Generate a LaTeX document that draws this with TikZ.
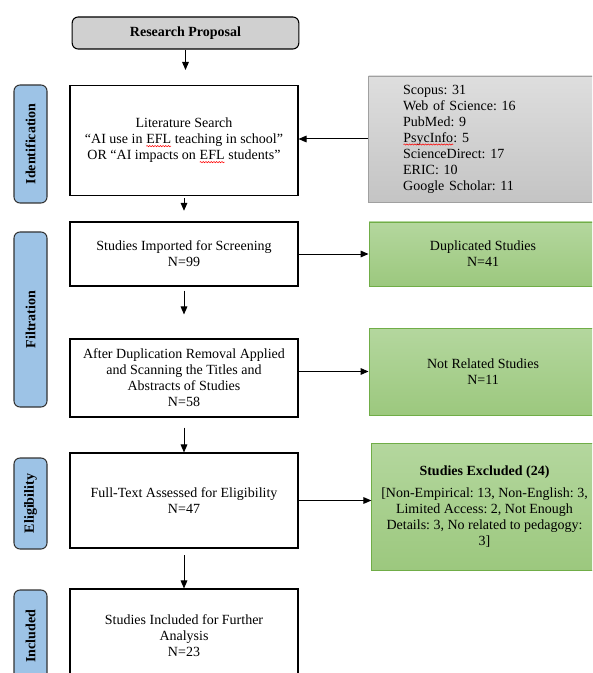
\documentclass[tikz,border=0pt]{standalone}
\usepackage{fontspec}
\setmainfont{Liberation Serif}
\usetikzlibrary{arrows,arrows.meta}
\usetikzlibrary{calc}
\usetikzlibrary{decorations.pathmorphing}
\frenchspacing

\definecolor{sideblue}{RGB}{157,195,230}
\definecolor{propgray}{RGB}{208,208,208}
\definecolor{srctop}{RGB}{222,222,222}
\definecolor{srcbot}{RGB}{196,196,196}
\definecolor{srcline}{RGB}{160,160,160}
\definecolor{greentop}{RGB}{180,215,158}
\definecolor{greenbot}{RGB}{156,200,126}
\definecolor{greenline}{RGB}{112,173,71}

\newcommand{\spellmark}[1]{\tikz[baseline=(w.base), x=1pt, y=1pt]{\node[anchor=base, inner sep=0pt, outer sep=0pt, minimum width=0pt, minimum height=0pt, text width={}, align=left] (w) {#1};
 \draw[red, line width=.4pt, decorate, decoration={snake, amplitude=.45pt, segment length=2pt}] ([yshift=-1.8pt]w.base west) -- ([yshift=-1.8pt]w.base east);}}

\begin{document}
\begin{tikzpicture}[x=.75pt, y=-.75pt, font=\fontsize{10.5}{12}\selectfont,
 mainbox/.style={draw=black, line width=.8pt, fill=white, align=center, minimum width=171pt, inner sep=2pt},
 sidebox/.style={draw=black!80, line width=.8pt, fill=sideblue, rounded corners=4.5pt, rotate=90, minimum height=24.75pt, font=\fontsize{10.5}{12}\selectfont\bfseries},
 greenbox/.style={draw=greenline, line width=.7pt, top color=greentop, bottom color=greenbot, align=center, minimum width=171pt},
 flow/.style={black, line width=.75pt, -{Triangle[length=6pt, width=5pt]}}]
\useasboundingbox (0,0) rectangle (592,673);
\clip (0,0) rectangle (592,673);

\node[mainbox, fill=propgray, rounded corners=4.5pt, minimum width=170pt, minimum height=24pt, font=\fontsize{10.5}{12}\selectfont\bfseries] (prop) at (185.5,33) {Research Proposal};
\node[mainbox, minimum height=83pt] (lit) at (184,140.5) {Literature Search\\“AI use in \spellmark{EFL} teaching in school”\\OR “AI impacts on \spellmark{EFL} students”};
\node[mainbox, minimum height=48pt] (imp) at (184,254) {Studies Imported for Screening\\N=99};
\node[mainbox, minimum height=58.5pt] (after) at (184,378) {After Duplication Removal Applied\\and Scanning the Titles and\\Abstracts of Studies\\N=58};
\node[mainbox, minimum height=71.25pt] (full) at (184,500.5) {Full-Text Assessed for Eligibility\\N=47};
\node[mainbox, minimum height=69.75pt] (incl) at (184,635.5) {Studies Included for Further\\Analysis\\N=23};

\node[draw=srcline, line width=.7pt, top color=srctop, bottom color=srcbot, align=left, text width=119pt, inner xsep=26pt, minimum height=94.5pt] (src) at (482.5,139) {Scopus: 31\\Web of Science: 16\\PubMed: 9\\\spellmark{PsycInfo}: 5\\ScienceDirect: 17\\ERIC: 10\\Google Scholar: 11};
\node[greenbox, minimum height=48pt] (dup) at (483,254) {Duplicated Studies\\N=41};
\node[greenbox, minimum height=65.25pt] (notrel) at (483,371.5) {Not Related Studies\\N=11};
\node[greenbox, minimum width=169pt, minimum height=95.25pt] (excl) at (484.5,506.5) {\textbf{Studies Excluded (24)}\\[5pt]{[}Non-Empirical: 13, Non-English: 3,\\Limited Access: 2, Not Enough\\Details: 3, No related to pedagogy:\\3]};

\foreach \name/\y/\len in {Identification/144/88.5, Filtration/319.5/131.25, Eligibility/503.5/68.25, Included/636/69}
 \node[sidebox, minimum width=\len pt] (side\name) at (30.5,\y) {\name};

\draw[flow, shorten >=11pt] (prop.south) -- (prop.south |- lit.north);
\draw[flow, shorten <=1.5pt, shorten >=8pt] (lit) -- (imp);
\draw[flow] (src.west) -- (src.west -| lit.east);
\draw[flow] (imp) -- (dup);
\draw[flow, shorten <=3pt, shorten >=18pt] (imp) -- (after);
\draw[flow] (notrel.west -| after.east) -- (notrel.west);
\draw[flow, shorten <=7.5pt] (after) -- (full);
\draw[flow] (full.east) -- (full.east -| excl.west);
\draw[flow, shorten <=5pt] (full) -- (incl);
\end{tikzpicture}
\end{document}
